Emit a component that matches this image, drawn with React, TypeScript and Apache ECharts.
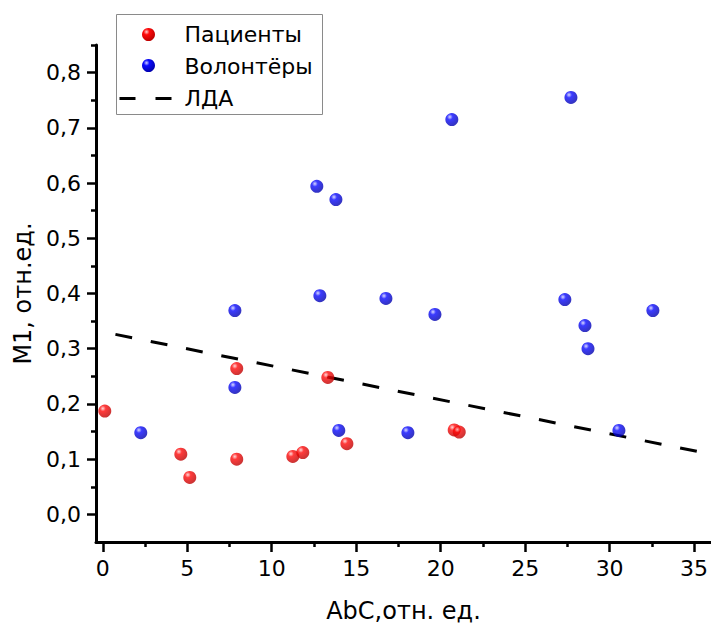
import React, { useEffect, useRef } from "react";
import * as echarts from "echarts";

// ---- data ----
const patientsX = [0.12, 4.62, 5.15, 7.93, 11.25, 11.84, 14.45, 7.93, 13.32, 20.8, 21.1];
const patientsY = [0.187, 0.109, 0.067, 0.1, 0.105, 0.112, 0.128, 0.264, 0.248, 0.153, 0.149];

const volunteersX = [2.25, 7.82, 7.82, 12.85, 16.76, 19.66, 13.97, 18.06, 12.67, 13.8, 20.66, 27.71, 27.35, 28.54, 28.72, 32.56, 30.55];
const volunteersY = [0.148, 0.369, 0.23, 0.396, 0.391, 0.362, 0.152, 0.148, 0.594, 0.57, 0.715, 0.755, 0.389, 0.342, 0.3, 0.369, 0.152];

const ldaX = [0.75, 36];
const ldaY = [0.326, 0.109];

const xTicks = [0, 5, 10, 15, 20, 25, 30, 35];
const xMinorTicks = [2.5, 7.5, 12.5, 17.5, 22.5, 27.5, 32.5];
const yTicks = [0, 0.1, 0.2, 0.3, 0.4, 0.5, 0.6, 0.7, 0.8];
const yMinorTicks = [0.05, 0.15, 0.25, 0.35, 0.45, 0.55, 0.65, 0.75, 0.85];

const seriesNames = ["Пациенты", "Волонтёры", "ЛДА"];
const xTitle = "AbC,отн. ед.";
const yTitle = "M1, отн.ед.";

const FONT = '"DejaVu Sans", "Liberation Sans", Arial, sans-serif';

const ball = (light: string, mid: string, dark: string) =>
  new echarts.graphic.RadialGradient(0.35, 0.3, 0.75, [
    { offset: 0, color: light },
    { offset: 0.3, color: mid },
    { offset: 1, color: dark },
  ]);

export default function App() {
  const ref = useRef<HTMLDivElement>(null);

  useEffect(() => {
    if (!ref.current) return;
    const chart = echarts.init(ref.current, null, { renderer: "svg" });

    const redBall = () => ball("#ffd0d0", "#ff0a0a", "#b80000");
    const blueBall = () => ball("#d0d0ff", "#0a0aff", "#0000a8");
    const fmt = (v: number) => v.toFixed(1).replace(".", ",");

    const option: any = {
      animation: false,
      backgroundColor: "#ffffff",
      textStyle: { fontFamily: FONT },
      grid: { left: 96, top: 45, right: 0, bottom: 84, containLabel: false, outerBoundsMode: "none" },
      xAxis: [
        {
          type: "value",
          min: -0.4,
          max: 36,
          position: "bottom",
          name: xTitle,
          nameLocation: "middle",
          nameGap: 57,
          nameTextStyle: { fontSize: 24, color: "#000", fontFamily: FONT },
          splitLine: { show: false },
          axisLine: { onZero: false, lineStyle: { color: "#000", width: 3 } },
          axisTick: { show: true, customValues: xTicks, length: 10, lineStyle: { color: "#000", width: 2.5 } },
          axisLabel: { customValues: xTicks, fontSize: 22, color: "#000", margin: 15, fontFamily: FONT, formatter: (v: number) => String(v) },
        },
        {
          type: "value",
          min: -0.4,
          max: 36,
          position: "bottom",
          splitLine: { show: false },
          axisLine: { show: false, onZero: false },
          axisTick: { show: true, customValues: xMinorTicks, length: 5, lineStyle: { color: "#000", width: 2.5 } },
          axisLabel: { show: false },
        },
      ],
      yAxis: [
        {
          type: "value",
          min: -0.05,
          max: 0.85,
          position: "left",
          name: yTitle,
          nameLocation: "middle",
          nameGap: 59,
          nameRotate: 90,
          nameTextStyle: { fontSize: 24, color: "#000", fontFamily: FONT },
          splitLine: { show: false },
          axisLine: { onZero: false, lineStyle: { color: "#000", width: 3 } },
          axisTick: { show: true, customValues: yTicks, length: 9, lineStyle: { color: "#000", width: 2.5 } },
          axisLabel: { customValues: yTicks, fontSize: 22, color: "#000", margin: 15, fontFamily: FONT, formatter: fmt },
        },
        {
          type: "value",
          min: -0.05,
          max: 0.85,
          position: "left",
          splitLine: { show: false },
          axisLine: { show: false, onZero: false },
          axisTick: { show: true, customValues: yMinorTicks, length: 5, lineStyle: { color: "#000", width: 2.5 } },
          axisLabel: { show: false },
        },
      ],
      series: [
        {
          name: seriesNames[2],
          type: "line",
          xAxisIndex: 0,
          yAxisIndex: 0,
          z: 1,
          symbol: "none",
          data: ldaX.map((x, i) => [x, ldaY[i]]),
          lineStyle: { color: "#000", width: 3, type: [17, 19] },
        },
        {
          name: seriesNames[0],
          type: "scatter",
          xAxisIndex: 0,
          yAxisIndex: 0,
          z: 3,
          symbol: "circle",
          symbolSize: 13,
          data: patientsX.map((x, i) => [x, patientsY[i]]),
          itemStyle: { color: redBall() },
        },
        {
          name: seriesNames[1],
          type: "scatter",
          xAxisIndex: 0,
          yAxisIndex: 0,
          z: 3,
          symbol: "circle",
          symbolSize: 13,
          data: volunteersX.map((x, i) => [x, volunteersY[i]]),
          itemStyle: { color: blueBall() },
        },
      ],
      graphic: [
        {
          type: "group",
          left: 116,
          top: 14,
          z: 100,
          children: [
            { type: "rect", shape: { x: 0, y: 0, width: 206, height: 100 }, style: { fill: "#fff", stroke: "#8a8a8a", lineWidth: 1 } },
            { type: "circle", shape: { cx: 32, cy: 20, r: 6.5 }, style: { fill: redBall() } },
            { type: "circle", shape: { cx: 32, cy: 51, r: 6.5 }, style: { fill: blueBall() } },
            { type: "line", shape: { x1: 3, y1: 84, x2: 57, y2: 84 }, style: { stroke: "#000", lineWidth: 3, lineDash: [16, 20] } },
            { type: "text", x: 68, y: 20, style: { text: seriesNames[0], fontSize: 22, fontFamily: FONT, fill: "#000", verticalAlign: "middle" } },
            { type: "text", x: 68, y: 52, style: { text: seriesNames[1], fontSize: 22, fontFamily: FONT, fill: "#000", verticalAlign: "middle" } },
            { type: "text", x: 68, y: 84, style: { text: seriesNames[2], fontSize: 22, fontFamily: FONT, fill: "#000", verticalAlign: "middle" } },
          ],
        },
      ],
    };

    chart.setOption(option);
    return () => chart.dispose();
  }, []);

  return (
    <div
      ref={ref}
      style={{ position: "fixed", left: 0, top: 0, width: 711, height: 626, background: "#fff" }}
    />
  );
}
